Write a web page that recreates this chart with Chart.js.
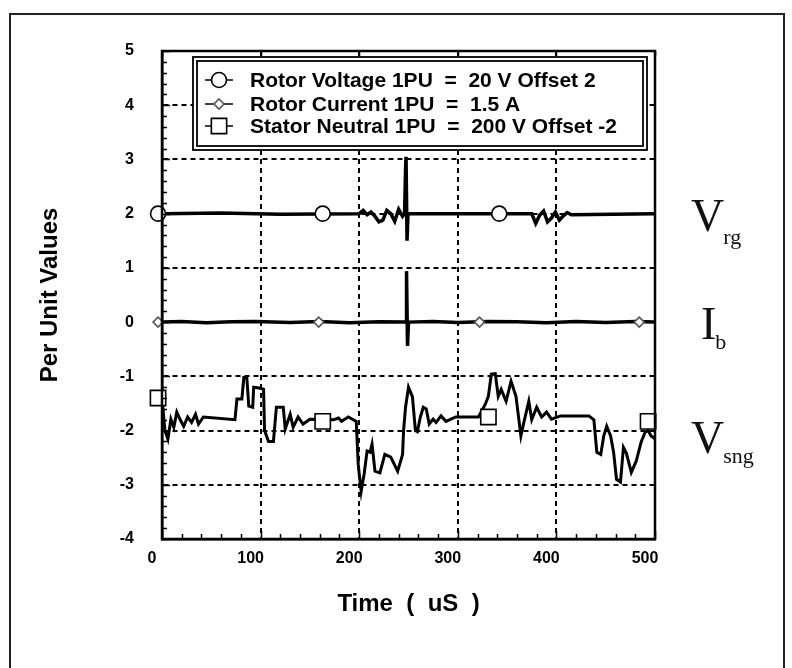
<!DOCTYPE html>
<html><head><meta charset="utf-8">
<script src="https://cdn.jsdelivr.net/npm/chart.js@4.4.0/dist/chart.umd.min.js"></script>
<style>html,body{margin:0;padding:0;background:#fff;}canvas{display:block;}</style>
</head><body>
<canvas id="c" width="792" height="668"></canvas>
<script>
// ---------- data ----------
const seriesLabels = ['Rotor Voltage 1PU  =  20 V Offset 2', 'Rotor Current 1PU  =  1.5 A', 'Stator Neutral 1PU  =  200 V Offset -2'];
const xTickValues = [0, 100, 200, 300, 400, 500];
const yTickValues = [-4, -3, -2, -1, 0, 1, 2, 3, 4, 5];
const xTitle = 'Time  (  uS  )';
const yTitle = 'Per Unit Values';
const sideMain = ['V', 'I', 'V'];
const sideSub = ['rg', 'b', 'sng'];
const sideLevels = [2, 0, -2];

const vrgTime  = [0, 60, 120, 200, 204, 208, 212, 216, 220, 224, 228, 232, 236, 240, 244, 246, 247, 247.5, 248.5, 249.5, 260, 375, 379, 383, 387, 391, 395, 399, 403, 407, 411, 415, 500];
const vrgValue = [2, 2.01, 1.99, 2, 2.06, 1.98, 2.03, 1.95, 1.85, 1.88, 2.06, 2.0, 1.86, 2.08, 1.95, 2.0, 2.8, 3.05, 1.5, 2.0, 2, 2, 1.82, 1.97, 2.05, 1.85, 1.92, 2.03, 1.88, 1.96, 2.02, 1.98, 2];

const ibTime  = [0, 20, 45, 70, 95, 130, 160, 190, 220, 247.5, 248, 249, 250, 275, 300, 330, 360, 390, 420, 450, 480, 500];
const ibValue = [0, 0.01, -0.01, 0.005, 0.01, -0.005, 0.01, -0.01, 0.005, 0, 0.94, -0.44, 0, 0.01, -0.005, 0.01, 0.005, -0.01, 0.01, -0.005, 0.01, 0];

const vsngTime  = [0, 3, 6, 9, 12, 15, 19, 22, 26, 30, 34, 37, 42, 74, 76, 81, 83, 86, 88, 92, 93, 100, 103, 104, 108, 113, 116, 123, 125, 130, 133, 138, 143, 150, 174, 179, 182, 189, 197, 199, 200, 202, 205, 208, 211, 213, 216, 221, 226, 232, 239, 244, 245, 247, 250, 254, 257, 259, 262, 265, 268, 271, 275, 278, 283, 288, 293, 298, 321, 328, 331, 334, 338, 341, 344, 349, 354, 359, 364, 367, 372, 375, 380, 385, 390, 395, 404, 433, 438, 441, 445, 448, 451, 455, 458, 461, 465, 468, 471, 476, 481, 486, 490, 493, 496, 500];
const vsngValue = [-1.4, -2.0, -2.16, -1.79, -1.94, -1.66, -1.82, -1.92, -1.75, -1.85, -1.70, -1.88, -1.75, -1.8, -1.42, -1.42, -1.02, -1.02, -1.55, -1.57, -1.2, -1.22, -1.24, -2.0, -2.2, -2.2, -1.57, -1.57, -1.97, -1.70, -1.94, -1.75, -1.88, -1.79, -1.8, -1.77, -1.83, -1.75, -1.83, -2.62, -2.8, -3.12, -2.8, -2.38, -2.4, -2.25, -2.75, -2.78, -2.44, -2.49, -2.75, -2.44, -2.0, -1.57, -1.2, -1.38, -2.0, -2.02, -1.75, -1.57, -1.6, -1.88, -1.79, -1.85, -1.73, -1.83, -1.79, -1.75, -1.75, -1.51, -1.37, -0.96, -0.95, -1.37, -1.24, -1.46, -1.09, -1.37, -2.1, -1.85, -1.46, -1.8, -1.57, -1.75, -1.66, -1.79, -1.73, -1.73, -1.8, -2.4, -2.44, -2.1, -1.92, -2.1, -2.4, -2.9, -2.95, -2.31, -2.42, -2.77, -2.56, -2.21, -2.03, -2.0, -2.1, -2.15];

const vrgMarkTime = [-4, 163, 342];
const vrgMarkValue = [2, 2, 2];
const ibMarkTime = [-4, 159, 322, 484];
const ibMarkValue = [0, 0, 0, 0];
const vsngMarkTime = [-4, 163, 331, 493];
const vsngMarkValue = [-1.4, -1.83, -1.75, -1.83];

const pts = (t, v) => t.map((x, i) => ({x: x, y: v[i]}));

// ---------- styles ----------
const FONT = "'Liberation Sans', Arial, sans-serif";
const markerStyles = [
  {pointStyle: 'circle', radius: 7.5, color: '#000'},
  {pointStyle: 'rectRot', radius: 5, color: '#555'},
  {pointStyle: 'rect', radius: 9, color: '#000'}
];

function drawMarker(ctx, st, x, y) {
  ctx.save();
  ctx.fillStyle = '#fff';
  ctx.strokeStyle = st.color;
  ctx.lineWidth = 1.6;
  ctx.beginPath();
  const r = st.radius;
  if (st.pointStyle === 'circle') {
    ctx.arc(x, y, r, 0, Math.PI * 2);
  } else if (st.pointStyle === 'rectRot') {
    ctx.moveTo(x, y - r); ctx.lineTo(x + r, y); ctx.lineTo(x, y + r); ctx.lineTo(x - r, y); ctx.closePath();
  } else {
    const s = r * 0.85;
    ctx.rect(x - s, y - s, 2 * s, 2 * s);
  }
  ctx.fill(); ctx.stroke();
  ctx.restore();
}

const decorPlugin = {
  id: 'decor',
  beforeDraw(chart) {
    const ctx = chart.ctx;
    ctx.save();
    ctx.fillStyle = '#fff';
    ctx.fillRect(0, 0, chart.width, chart.height);
    ctx.strokeStyle = '#222';
    ctx.lineWidth = 2;
    ctx.strokeRect(10, 14, 774, 700);
    ctx.restore();
  },
  afterDatasetsDraw(chart) {
    const ctx = chart.ctx;
    const a = chart.chartArea;
    const xs = chart.scales.x, ys = chart.scales.y;
    ctx.save();
    // minor ticks
    ctx.strokeStyle = '#000';
    ctx.lineWidth = 1.5;
    ctx.beginPath();
    for (let v = -4; v <= 5.0001; v += 0.2) {
      const py = Math.round(ys.getPixelForValue(v)) + 0.5;
      const len = Math.abs(v - Math.round(v)) < 0.01 ? 8 : 5;
      ctx.moveTo(a.left, py); ctx.lineTo(a.left + len, py);
    }
    for (let t = 0; t <= 500; t += 20) {
      const px = Math.round(xs.getPixelForValue(t)) + 0.5;
      const len = t % 100 === 0 ? 8 : 5;
      ctx.moveTo(px, a.bottom); ctx.lineTo(px, a.bottom - len);
      if (t % 100 === 0) { ctx.moveTo(px, a.top); ctx.lineTo(px, a.top + 5); }
    }
    ctx.stroke();
    // frame
    ctx.lineWidth = 2.5;
    ctx.strokeRect(a.left, a.top, a.right - a.left, a.bottom - a.top);

    // legend box
    const lx = a.left + 31, ly = a.top + 6, lw = 454, lh = 93;
    ctx.fillStyle = '#fff';
    ctx.fillRect(lx, ly, lw, lh);
    ctx.lineWidth = 1.8;
    ctx.strokeStyle = '#000';
    ctx.strokeRect(lx, ly, lw, lh);
    ctx.strokeRect(lx + 4, ly + 4, lw - 8, lh - 8);
    const rowY = [ly + 23, ly + 47, ly + 69];
    ctx.font = 'bold 21px ' + FONT;
    ctx.textBaseline = 'middle';
    ctx.textAlign = 'left';
    seriesLabels.forEach((lab, i) => {
      const y = rowY[i];
      ctx.strokeStyle = '#000';
      ctx.lineWidth = 1.5;
      ctx.beginPath(); ctx.moveTo(lx + 12, y); ctx.lineTo(lx + 40, y); ctx.stroke();
      drawMarker(ctx, markerStyles[i], lx + 26, y);
      ctx.fillStyle = '#000';
      ctx.fillText(lab, lx + 57, y + 1);
    });

    // side labels
    const mainOff = [17, 17, 22];
    const subOff = [13, 10, 10];
    const xStart = [a.right + 36, a.right + 46, a.right + 36];
    sideMain.forEach((m, i) => {
      const base = ys.getPixelForValue(sideLevels[i]) + mainOff[i];
      ctx.fillStyle = '#111';
      ctx.textBaseline = 'alphabetic';
      ctx.font = "46px 'Liberation Serif', 'Times New Roman', serif";
      ctx.fillText(m, xStart[i], base);
      const w = ctx.measureText(m).width;
      ctx.font = "22px 'Liberation Serif', 'Times New Roman', serif";
      ctx.fillText(sideSub[i], xStart[i] + w - 1, base + subOff[i]);
    });
    ctx.restore();
  }
};

const lineDs = (label, data, w) => ({
  type: 'line', label: label, data: data, borderColor: '#000', borderWidth: w,
  pointRadius: 0, tension: 0, fill: false, order: 2
});
const markDs = (data, st) => ({
  type: 'scatter', data: data, showLine: false, pointStyle: st.pointStyle, clip: false,
  pointRadius: st.pointStyle === 'rect' ? st.radius * 0.85 * Math.SQRT2 : st.radius,
  backgroundColor: '#fff', borderColor: st.color, borderWidth: 1.6, order: 1
});

new Chart(document.getElementById('c'), {
  type: 'line',
  data: {
    datasets: [
      lineDs(seriesLabels[0], pts(vrgTime, vrgValue), 3.5),
      lineDs(seriesLabels[1], pts(ibTime, ibValue), 3.5),
      lineDs(seriesLabels[2], pts(vsngTime, vsngValue), 3),
      markDs(pts(vrgMarkTime, vrgMarkValue), markerStyles[0]),
      markDs(pts(ibMarkTime, ibMarkValue), markerStyles[1]),
      markDs(pts(vsngMarkTime, vsngMarkValue), markerStyles[2])
    ]
  },
  options: {
    responsive: false,
    animation: false,
    devicePixelRatio: 1,
    layout: {padding: {left: 0, right: 137, top: 51, bottom: 0}},
    plugins: {legend: {display: false}, tooltip: {enabled: false}},
    scales: {
      x: {
        type: 'linear', min: 0, max: 500,
        afterBuildTicks: s => { s.ticks = xTickValues.map(v => ({value: v})); },
        afterFit: s => { s.height = 129; },
        ticks: {color: '#000', font: {family: FONT, size: 16, weight: 'bold'}, padding: 10, labelOffset: -10, maxRotation: 0},
        grid: {color: '#000', lineWidth: 2, drawTicks: false},
        border: {display: true, color: '#000', width: 2.5, dash: [5, 4]},
        title: {display: true, text: xTitle, color: '#000', font: {family: FONT, size: 24, weight: 'bold'}, padding: {top: 0, bottom: 49}}
      },
      y: {
        type: 'linear', min: -4, max: 5,
        afterBuildTicks: s => { s.ticks = yTickValues.map(v => ({value: v})); },
        afterFit: s => { s.width = 162; },
        ticks: {color: '#000', font: {family: FONT, size: 16, weight: 'bold'}, padding: 28},
        grid: {color: '#000', lineWidth: 2, drawTicks: false},
        border: {display: true, color: '#000', width: 2.5, dash: [5, 4]},
        title: {display: true, text: yTitle, color: '#000', font: {family: FONT, size: 24, weight: 'bold'}, padding: {top: 36, bottom: 0}}
      }
    }
  },
  plugins: [decorPlugin]
});
</script>
</body></html>
